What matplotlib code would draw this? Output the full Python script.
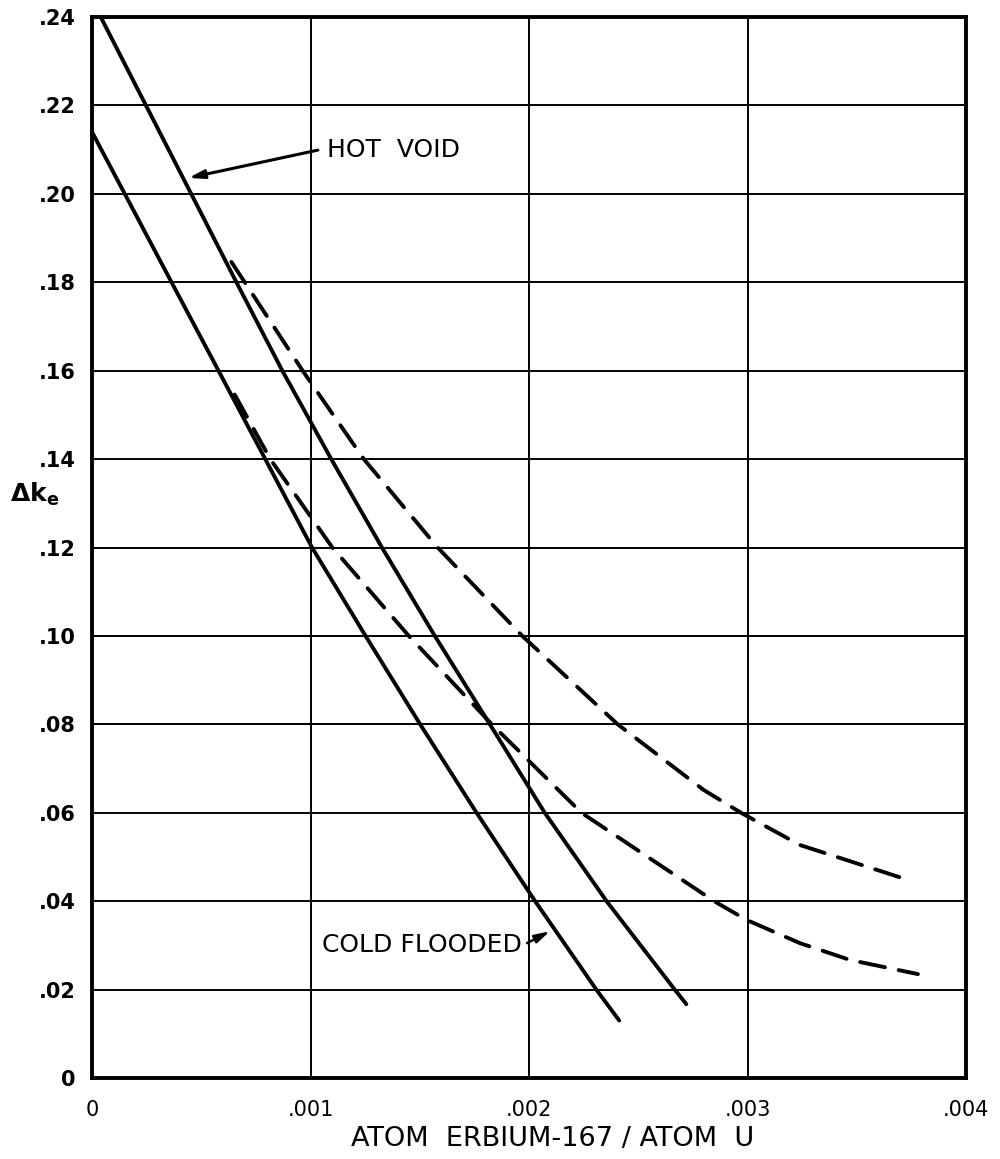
import matplotlib.pyplot as plt

# Reactivity worth curves, delta k_e versus Er-167 loading
hot_void_x = [0.00004, 0.000247, 0.000454, 0.000661, 0.000871, 0.001095, 0.001327,
              0.001569, 0.001821, 0.002072, 0.002355, 0.002667, 0.00272]
hot_void_y = [0.240, 0.220, 0.200, 0.180, 0.160, 0.140, 0.120,
              0.100, 0.080, 0.060, 0.040, 0.020, 0.0167]

cold_flooded_x = [0.0, 0.00015, 0.000364, 0.000579, 0.000793, 0.001007, 0.001252,
                  0.001502, 0.00176, 0.002028, 0.002308, 0.002413]
cold_flooded_y = [0.214, 0.200, 0.180, 0.160, 0.140, 0.120, 0.100,
                  0.080, 0.060, 0.040, 0.020, 0.013]

hot_void_dash_x = [0.000638, 0.000964, 0.001244, 0.001582, 0.001969, 0.002406,
                   0.002798, 0.00297, 0.00324, 0.003547, 0.003735]
hot_void_dash_y = [0.1846, 0.160, 0.140, 0.120, 0.100, 0.080,
                   0.0652, 0.060, 0.0527, 0.0478, 0.0448]

cold_flooded_dash_x = [0.000653, 0.000816, 0.0011, 0.00145, 0.00183, 0.00224,
                       0.002847, 0.002998, 0.00324, 0.003469, 0.00378]
cold_flooded_dash_y = [0.1546, 0.140, 0.120, 0.100, 0.080, 0.060,
                       0.040, 0.0357, 0.0305, 0.0267, 0.0235]

x_ticks = [0.0, 0.001, 0.002, 0.003, 0.004]
x_tick_labels = ['0', '.001', '.002', '.003', '.004']
y_ticks = [0.0, 0.02, 0.04, 0.06, 0.08, 0.10, 0.12, 0.14, 0.16, 0.18, 0.20, 0.22, 0.24]
y_tick_labels = ['0', '.02', '.04', '.06', '.08', '.10', '.12', '.14', '.16', '.18',
                 '.20', '.22', '.24']

plt.rcParams['font.family'] = ['DejaVu Sans']
plt.rcParams['mathtext.fontset'] = 'dejavusans'

fig = plt.figure(figsize=(10, 11.59), dpi=100)
ax = fig.add_axes([0.092, 0.0699, 0.874, 0.9154])

ax.set_xlim(0, 0.004)
ax.set_ylim(0, 0.24)
ax.set_xticks(x_ticks)
ax.set_xticklabels(x_tick_labels, fontsize=15)
ax.set_yticks(y_ticks)
ax.set_yticklabels(y_tick_labels, fontsize=15, fontweight='bold')
ax.tick_params(length=0)
ax.tick_params(axis='x', pad=16)
ax.tick_params(axis='y', pad=12)
ax.grid(True, color='black', linewidth=1.4)
ax.set_axisbelow(True)
for spine in ax.spines.values():
    spine.set_linewidth(2.8)

line_kw = dict(color='black', linewidth=2.8, solid_capstyle='round',
               dash_capstyle='round', solid_joinstyle='round', clip_on=False)
dash = (0, (6.5, 3.6))
ax.plot(hot_void_x, hot_void_y, **line_kw)
ax.plot(cold_flooded_x, cold_flooded_y, **line_kw)
ax.plot(hot_void_dash_x, hot_void_dash_y, linestyle=dash, **line_kw)
ax.plot(cold_flooded_dash_x, cold_flooded_dash_y, linestyle=dash, **line_kw)

# curve labels with leader arrows
arrow_kw = dict(arrowstyle='-|>,head_length=0.9,head_width=0.25', color='black',
                lw=2.2, shrinkA=0, shrinkB=0)
ax.annotate('', xy=(0.000441, 0.2036), xytext=(0.001034, 0.2099),
            arrowprops=arrow_kw)
ax.text(0.001075, 0.2099, 'HOT  VOID', fontsize=18, ha='left', va='center')

ax.annotate('', xy=(0.002096, 0.0332), xytext=(0.001991, 0.0305),
            arrowprops=dict(arrow_kw, lw=1.8))
ax.text(0.001966, 0.0301, 'COLD FLOODED', fontsize=18, ha='right', va='center')

fig.text(0.010, 0.567, r'$\mathbf{\Delta k}_{\mathbf{e}}$', fontsize=18,
         ha='left', va='baseline')

ax.set_xlabel('ATOM  ERBIUM-167 / ATOM  U', fontsize=19.5, labelpad=12)
ax.xaxis.set_label_coords(0.527, -0.045)

fig.savefig('out.png', dpi=100)
